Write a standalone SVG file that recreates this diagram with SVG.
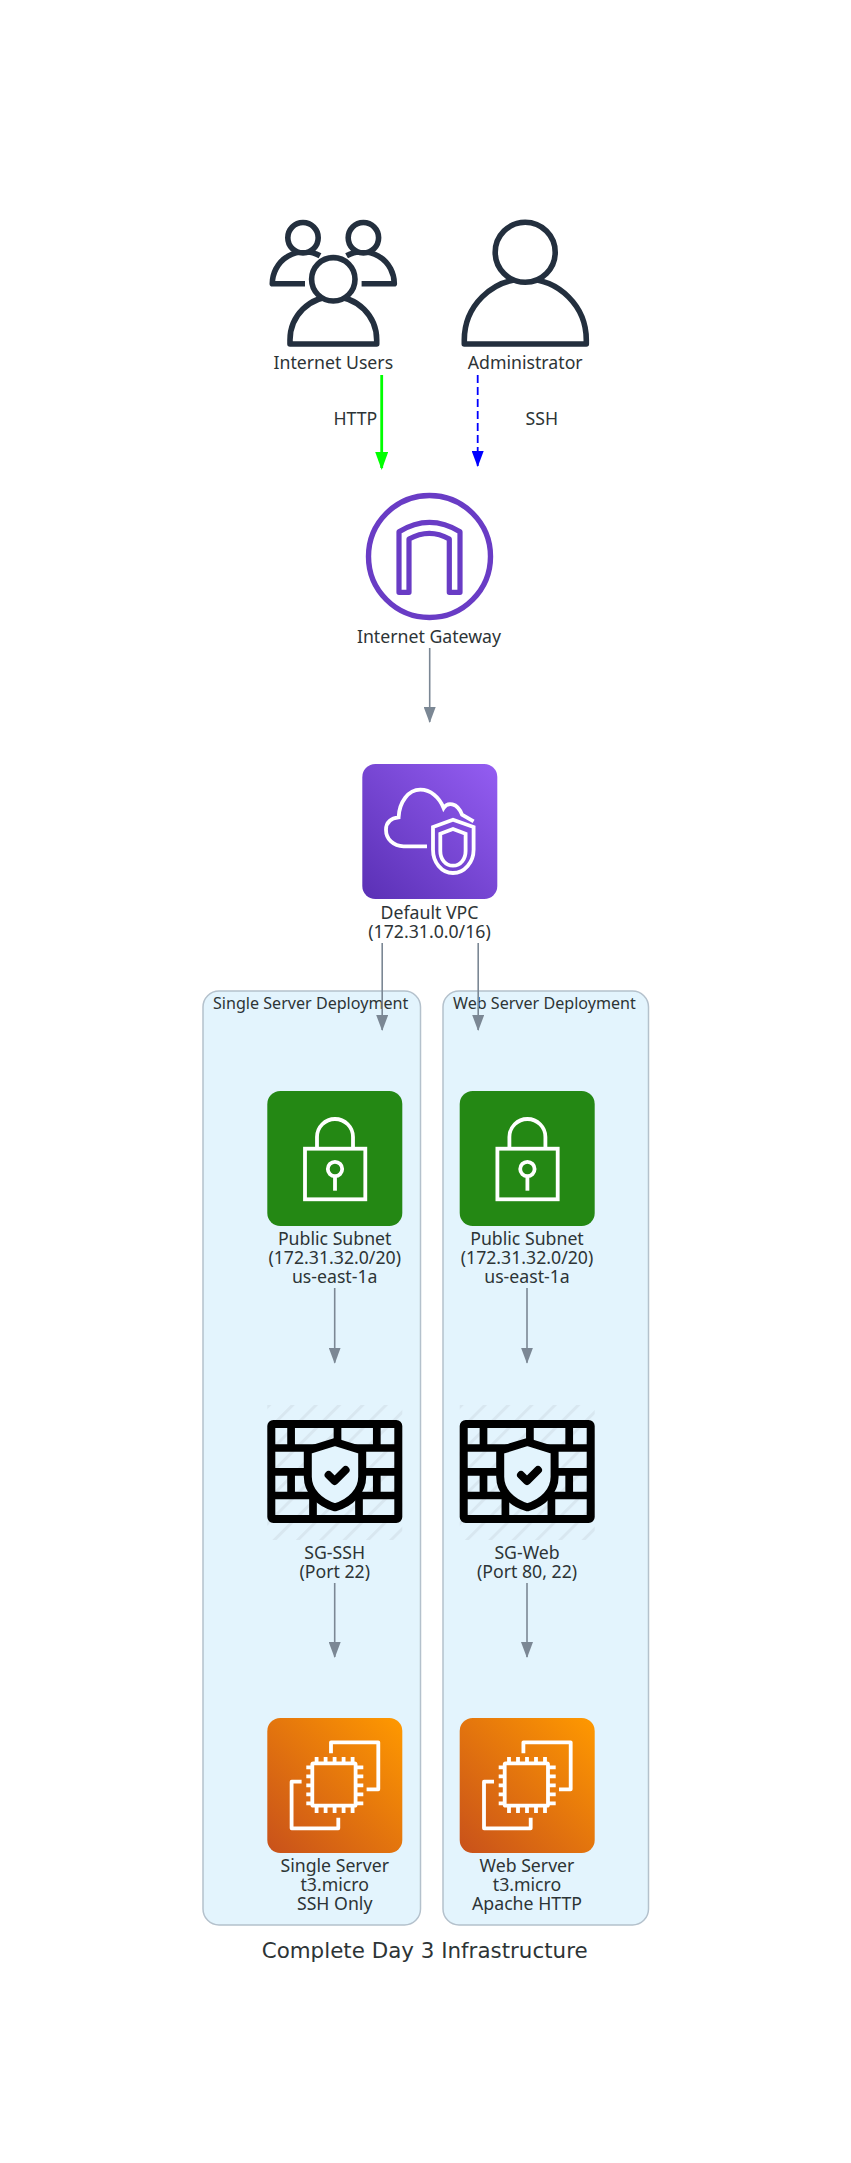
<svg xmlns="http://www.w3.org/2000/svg" xmlns:xlink="http://www.w3.org/1999/xlink" width="851" height="2163" viewBox="0 0 851 2163">
<style>
text{font-family:"Noto Sans","Liberation Sans",sans-serif;font-size:17.7px;fill:#2d3436;text-anchor:middle}
.title{font-family:"DejaVu Sans",sans-serif;font-size:20.5px}
.cl{font-size:16.1px;text-anchor:start}
.cluster{fill:#e3f4fd;stroke:#b4c1cc;stroke-width:1.5}
.person{fill:#fff;stroke:#232f3e;stroke-width:5.6;stroke-linejoin:round}
.w{fill:none;stroke:#fff;stroke-width:3.8}
.c{stroke:#7b8794;stroke-width:1.6;fill:none}
</style>
<defs>
<linearGradient id="gv" x1="0" y1="1" x2="1" y2="0"><stop offset="0" stop-color="#5a30b5"/><stop offset="1" stop-color="#945df2"/></linearGradient>
<linearGradient id="go" x1="0" y1="1" x2="1" y2="0"><stop offset="0" stop-color="#c8511b"/><stop offset="1" stop-color="#f90"/></linearGradient>
<pattern id="hatch" patternUnits="userSpaceOnUse" width="16.5" height="16.5" patternTransform="rotate(45)"><rect width="3" height="16.5" fill="#d8e7f0"/></pattern>
<marker id="mg" markerUnits="userSpaceOnUse" markerWidth="16" markerHeight="12" refX="15" refY="6" orient="auto"><path d="M0 0L16 6L0 12z" fill="#7b8794"/></marker>
<marker id="mgreen" markerUnits="userSpaceOnUse" markerWidth="18" markerHeight="13" refX="16" refY="6.5" orient="auto"><path d="M0 0L18 6.5L0 13z" fill="#0f0"/></marker>
<marker id="mblue" markerUnits="userSpaceOnUse" markerWidth="16" markerHeight="12" refX="15" refY="6" orient="auto"><path d="M0 0L16 6L0 12z" fill="#00f"/></marker>
<g id="subnet">
<rect width="135" height="135" rx="13" fill="#248814"/>
<rect class="w" x="37.7" y="57.7" width="60.3" height="50.6"/>
<path class="w" d="M49.7 57.7V46A18 18 0 0 1 85.7 46V57.7"/>
<circle class="w" cx="67.7" cy="78" r="7.2"/>
<path class="w" d="M67.7 85.2V99.7"/>
</g>
<g id="sg">
<rect width="135" height="135" fill="url(#hatch)"/>
<rect x="4" y="19" width="127" height="95" rx="2" fill="none" stroke="#000" stroke-width="8"/>
<path fill="none" stroke="#000" stroke-width="7.7" d="M4 43H131M4 66.8H131M4 90.5H131M23.8 19V43M70.2 19V43M109.5 19V43M23.8 66.8V90.5M109.5 66.8V90.5M45.7 90.5V114M91.7 90.5V114"/>
<path fill="#e3f4fd" stroke="#000" stroke-width="8" stroke-linejoin="round" d="M67.7 37L40.5 45.5V71.7C40.5 86 52 98 67.7 102.3C83.4 98 94.9 86 94.9 71.7V45.5Z"/>
<path fill="none" stroke="#000" stroke-width="8" stroke-linecap="round" stroke-linejoin="round" d="M61.3 70L67.3 76L78.3 65"/>
</g>
<g id="ec2">
<rect width="135" height="135" rx="13" fill="url(#go)"/>
<rect class="w" x="45" y="45.3" width="43.3" height="42.4" rx="1"/>
<path class="w" d="M49.3 39V45M58.3 39V45M67.3 39V45M76.3 39V45M85.3 39V45M49.3 88V95M58.3 88V95M67.3 88V95M76.3 88V95M85.3 88V95M39 49.3H45M39 58.3H45M39 67.3H45M39 76.3H45M39 85.3H45M88 49.3H96M88 58.3H96M88 67.3H96M88 76.3H96M88 85.3H96"/>
<path class="w" stroke-linejoin="round" d="M63.7 35.3V24.3H111V71.3H99.3M34.3 63.7H24.3V110.3H71V99.7"/>
</g>
</defs>
<rect width="851" height="2163" fill="#fff"/>
<g id="cluster-single"><rect class="cluster" x="203" y="991" width="217.5" height="934" rx="16"/><text class="cl" x="213" y="1009">Single Server Deployment</text></g>
<g id="cluster-web"><rect class="cluster" x="443" y="991" width="205.5" height="934" rx="16"/><text class="cl" x="453" y="1009">Web Server Deployment</text></g>
<g id="internet-users">
<path class="person" d="M305 283.7H272.3A32 32 0 0 1 320 255.8"/>
<path class="person" d="M361.6 283.7H394.3A32 32 0 0 0 346.6 255.8"/>
<circle class="person" cx="303" cy="237.7" r="15.2"/>
<circle class="person" cx="363.4" cy="237.7" r="15.2"/>
<path class="person" d="M290 344V340A43.3 43.3 0 0 1 376.7 340V344Z"/>
<circle class="person" cx="333.3" cy="279.3" r="21.7"/>
<text x="333.3" y="369">Internet Users</text>
</g>
<g id="administrator">
<path class="person" d="M464.3 344V340A61 61 0 0 1 586.3 340V344Z"/>
<circle class="person" cx="525.2" cy="252.3" r="30"/>
<text x="525.2" y="369">Administrator</text>
</g>
<g id="internet-gateway">
<circle cx="429.5" cy="556.5" r="61" fill="none" stroke="#693cc5" stroke-width="5.4"/>
<path fill="none" stroke="#693cc5" stroke-width="5.2" stroke-linejoin="round" d="M399 592.3V531.7Q429.5 513 460 531.7V592.3H449.3V539Q429.5 527.6 409 539V592.3Z"/>
<text x="429" y="643">Internet Gateway</text>
</g>
<g id="default-vpc">
<g transform="translate(362.3 764)">
<rect width="135" height="135" rx="13" fill="url(#gv)"/>
<path class="w" d="M64.7 82.3H41.3C31 82.3 23.7 75 23.7 65.7C23.7 58 29 54 36.3 53.3C37 38 46 25.7 58 25.7C68 25.7 77 33 81.3 44C85 38 95 38 99.7 50.7L111.3 57.3"/>
<path class="w" d="M90.7 55.7L70.7 63V85.7C70.7 98 79 109 90.7 109C102.4 109 111.3 98 111.3 85.7V63Z"/>
<path class="w" d="M90.7 65L78 69.7V87C78 95 83 101.7 90.7 101.7C98.4 101.700 103.3 95 103.3 87V69.7Z"/>
</g>
<text x="429.5" y="919">Default VPC</text><text x="429.5" y="938">(172.31.0.0/16)</text>
</g>
<g id="subnet-single"><use xlink:href="#subnet" href="#subnet" x="267.3" y="1091"/><text x="334.7" y="1245">Public Subnet</text><text x="334.7" y="1264">(172.31.32.0/20)</text><text x="334.7" y="1282.7">us-east-1a</text></g>
<g id="subnet-web"><use xlink:href="#subnet" href="#subnet" x="459.7" y="1091"/><text x="527" y="1245">Public Subnet</text><text x="527" y="1264">(172.31.32.0/20)</text><text x="527" y="1282.7">us-east-1a</text></g>
<g id="sg-ssh"><use xlink:href="#sg" href="#sg" x="267.3" y="1405"/><text x="334.7" y="1559">SG-SSH</text><text x="334.7" y="1578">(Port 22)</text></g>
<g id="sg-web"><use xlink:href="#sg" href="#sg" x="459.7" y="1405"/><text x="527" y="1559">SG-Web</text><text x="527" y="1578">(Port 80, 22)</text></g>
<g id="ec2-single"><use xlink:href="#ec2" href="#ec2" x="267.3" y="1718"/><text x="334.7" y="1871.7">Single Server</text><text x="334.7" y="1891">t3.micro</text><text x="334.7" y="1909.7">SSH Only</text></g>
<g id="ec2-web"><use xlink:href="#ec2" href="#ec2" x="459.7" y="1718"/><text x="527" y="1871.7">Web Server</text><text x="527" y="1891">t3.micro</text><text x="527" y="1909.7">Apache HTTP</text></g>
<g id="connectors">
<path d="M381.7 375V468" stroke="#0f0" stroke-width="2.8" fill="none" marker-end="url(#mgreen)"/>
<path d="M477.7 375V466" stroke="#00f" stroke-width="1.8" stroke-dasharray="8 4" fill="none" marker-end="url(#mblue)"/>
<text x="355.300" y="425">HTTP</text>
<text x="541.8" y="425">SSH</text>
<path class="c" d="M429.7 648V722" marker-end="url(#mg)"/>
<path class="c" d="M382.2 943V1030" marker-end="url(#mg)"/>
<path class="c" d="M478.2 943V1030" marker-end="url(#mg)"/>
<path class="c" d="M334.7 1288V1362.7" marker-end="url(#mg)"/>
<path class="c" d="M527 1288V1362.7" marker-end="url(#mg)"/>
<path class="c" d="M334.7 1583V1657" marker-end="url(#mg)"/>
<path class="c" d="M527 1583V1657" marker-end="url(#mg)"/>
</g>
<text class="title" x="424.7" y="1958" textLength="326" lengthAdjust="spacingAndGlyphs">Complete Day 3 Infrastructure</text>
</svg>
